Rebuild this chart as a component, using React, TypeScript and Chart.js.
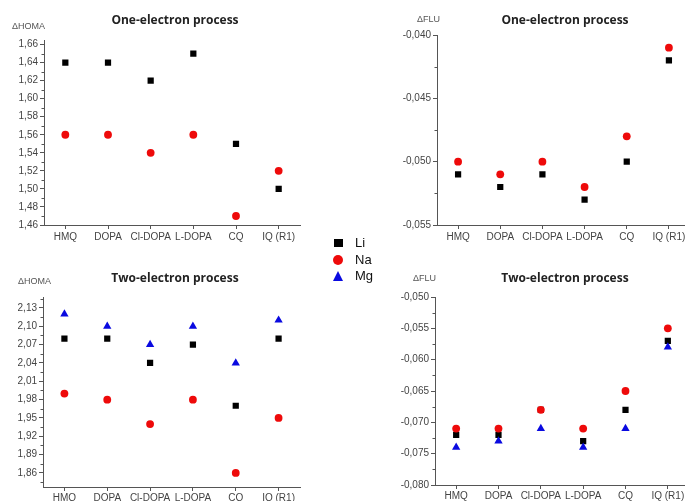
import React, { useEffect, useRef } from 'react';
import { Chart, registerables } from 'chart.js';
Chart.register(...registerables);

const CATEGORIES = ['HMQ', 'DOPA', 'Cl-DOPA', 'L-DOPA', 'CQ', 'IQ (R1)'];

// One-electron process, ΔHOMA
const HOMA1_LI = [1.64, 1.64, 1.62, 1.65, 1.55, 1.50];
const HOMA1_NA = [1.56, 1.56, 1.54, 1.56, 1.47, 1.52];
const HOMA1_TICKS = [1.46, 1.48, 1.50, 1.52, 1.54, 1.56, 1.58, 1.60, 1.62, 1.64, 1.66];

// One-electron process, ΔFLU
const FLU1_LI = [-0.051, -0.052, -0.051, -0.053, -0.050, -0.042];
const FLU1_NA = [-0.050, -0.051, -0.050, -0.052, -0.048, -0.041];
const FLU1_TICKS = [-0.055, -0.050, -0.045, -0.040];

// Two-electron process, ΔHOMA
const HOMA2_LI = [2.08, 2.08, 2.04, 2.07, 1.97, 2.08];
const HOMA2_NA = [1.99, 1.98, 1.94, 1.98, 1.86, 1.95];
const HOMA2_MG = [2.12, 2.10, 2.07, 2.10, 2.04, 2.11];
const HOMA2_TICKS = [1.86, 1.89, 1.92, 1.95, 1.98, 2.01, 2.04, 2.07, 2.10, 2.13];

// Two-electron process, ΔFLU
const FLU2_LI = [-0.072, -0.072, -0.068, -0.073, -0.068, -0.057];
const FLU2_NA = [-0.071, -0.071, -0.068, -0.071, -0.065, -0.055];
const FLU2_MG = [-0.074, -0.073, -0.071, -0.074, -0.071, -0.058];
const FLU2_TICKS = [-0.080, -0.075, -0.070, -0.065, -0.060, -0.055, -0.050];

const SERIES_NAMES = ['Li', 'Na', 'Mg'];
const TITLES = ['One-electron process', 'Two-electron process'];
const Y_LABELS = ['\u0394HOMA', '\u0394FLU'];

const COLORS = { Li: '#000000', Na: '#ee0a0a', Mg: '#0a0ae0' };
const AXIS = '#555555';
const TICK_TEXT = '#444444';
const FONT = "'Liberation Sans', Arial, sans-serif";
const TITLE_FONT = "'Open Sans', 'Noto Sans', sans-serif";

function ds(name: string, data: number[]) {
  const style: any =
    name === 'Li'
      ? { pointStyle: 'rect', pointRadius: 4.4, order: 3 }
      : name === 'Na'
      ? { pointStyle: 'circle', pointRadius: 3.9, order: 2 }
      : { pointStyle: 'triangle', pointRadius: 4.8, order: 1 };
  const c = (COLORS as any)[name];
  return {
    label: name,
    data,
    showLine: false,
    backgroundColor: c,
    borderColor: c,
    borderWidth: 0,
    pointBorderWidth: 0,
    pointBackgroundColor: c,
    ...style,
  };
}

const textPlugin = {
  id: 'panelText',
  afterDraw(chart: any, _args: any, opts: any) {
    const ctx = chart.ctx;
    ctx.save();
    ctx.textBaseline = 'middle';
    ctx.fillStyle = '#222';
    ctx.font = `bold 12px ${TITLE_FONT}`;
    ctx.textAlign = 'center';
    ctx.fillText(opts.title, opts.titleX, opts.titleY);
    ctx.fillStyle = '#555';
    ctx.font = `9px ${FONT}`;
    ctx.textAlign = 'left';
    ctx.fillText(opts.yLabel, opts.yLabelX, opts.yLabelY);
    ctx.restore();
  },
};

const minorTickPlugin = {
  id: 'minorTicks',
  afterDraw(chart: any, _args: any, opts: any) {
    const y = chart.scales.y;
    const ticks: number[] = opts.ticks;
    if (!ticks || ticks.length < 2) return;
    const step = ticks[1] - ticks[0];
    const ctx = chart.ctx;
    const left = chart.chartArea.left;
    ctx.save();
    ctx.strokeStyle = AXIS;
    ctx.lineWidth = 1;
    const vals: number[] = [];
    for (let i = -1; i < ticks.length; i++) {
      const v = ticks[0] + (i + 0.5) * step;
      if (v >= y.min - 1e-9 && v <= y.max + 1e-9) vals.push(v);
    }
    vals.forEach((v) => {
      const py = Math.round(y.getPixelForValue(v)) + 0.5;
      ctx.beginPath();
      ctx.moveTo(left - 2.5, py);
      ctx.lineTo(left, py);
      ctx.stroke();
    });
    ctx.restore();
  },
};

type PanelProps = {
  left: number;
  top: number;
  width: number;
  height: number;
  padTop: number;
  padRight: number;
  yWidth: number;
  xHeight: number;
  xPad: number;
  yMin: number;
  yMax: number;
  yTicks: number[];
  decimals: number;
  series: { name: string; data: number[] }[];
  title: string;
  yLabel: string;
  titleX: number;
  titleY: number;
  yLabelX: number;
  yLabelY: number;
};

function Panel(p: PanelProps) {
  const ref = useRef<HTMLCanvasElement>(null);
  useEffect(() => {
    if (!ref.current) return;
    const chart = new Chart(ref.current, {
      type: 'line',
      data: {
        labels: CATEGORIES,
        datasets: p.series.map((s) => ds(s.name, s.data)) as any,
      },
      plugins: [textPlugin, minorTickPlugin],
      options: {
        responsive: false,
        animation: false,
        devicePixelRatio: 1,
        layout: { padding: { top: p.padTop, right: p.padRight, left: 0, bottom: 0 } },
        plugins: {
          legend: { display: false },
          tooltip: { enabled: false },
          panelText: {
            title: p.title,
            yLabel: p.yLabel,
            titleX: p.titleX,
            titleY: p.titleY,
            yLabelX: p.yLabelX,
            yLabelY: p.yLabelY,
          },
          minorTicks: { ticks: p.yTicks },
        } as any,
        scales: {
          x: {
            type: 'category',
            offset: true,
            grid: {
              display: true,
              drawOnChartArea: false,
              drawTicks: true,
              tickLength: 4,
              color: AXIS,
              offset: false,
            },
            border: { display: true, color: AXIS, width: 1 },
            ticks: {
              font: { family: FONT, size: 10 },
              color: TICK_TEXT,
              padding: p.xPad,
              maxRotation: 0,
              autoSkip: false,
            },
            afterFit: (s: any) => {
              s.height = p.xHeight;
            },
          },
          y: {
            type: 'linear',
            min: p.yMin,
            max: p.yMax,
            afterBuildTicks: (s: any) => {
              s.ticks = p.yTicks.map((v) => ({ value: v }));
            },
            grid: {
              display: true,
              drawOnChartArea: false,
              drawTicks: true,
              tickLength: 4,
              color: AXIS,
            },
            border: { display: true, color: AXIS, width: 1 },
            ticks: {
              font: { family: FONT, size: 10 },
              color: TICK_TEXT,
              padding: 2,
              callback: (v: any) => Number(v).toFixed(p.decimals).replace('.', ','),
            },
            afterFit: (s: any) => {
              s.width = p.yWidth;
            },
          },
        },
      } as any,
    });
    return () => chart.destroy();
  }, []);
  return (
    <canvas
      ref={ref}
      width={p.width}
      height={p.height}
      style={{ position: 'absolute', left: p.left, top: p.top, width: p.width, height: p.height }}
    />
  );
}

function Legend() {
  const row = (name: string, marker: React.ReactNode, y: number) => (
    <div key={name} style={{ position: 'absolute', left: 330, top: y - 8, height: 16, width: 60 }}>
      <div style={{ position: 'absolute', left: 3, top: 3, width: 10, height: 10, display: 'flex', alignItems: 'center', justifyContent: 'center' }}>
        {marker}
      </div>
      <span
        style={{
          position: 'absolute',
          left: 25,
          top: 0,
          lineHeight: '16px',
          fontSize: 13,
          fontFamily: FONT,
          color: '#111',
        }}
      >
        {name}
      </span>
    </div>
  );
  return (
    <>
      {row(SERIES_NAMES[0], <div style={{ width: 9, height: 8, background: COLORS.Li }} />, 243)}
      {row(SERIES_NAMES[1], <div style={{ width: 10, height: 10, borderRadius: 5, background: COLORS.Na }} />, 260)}
      {row(
        SERIES_NAMES[2],
        <div
          style={{
            width: 0,
            height: 0,
            borderLeft: '5.5px solid transparent',
            borderRight: '5.5px solid transparent',
            borderBottom: `10px solid ${COLORS.Mg}`,
          }}
        />,
        276
      )}
    </>
  );
}

export default function App() {
  return (
    <div
      style={{
        position: 'fixed',
        left: 0,
        top: 0,
        width: 685,
        height: 501,
        overflow: 'hidden',
        background: '#fff',
      }}
    >
      <Panel
        left={0}
        top={0}
        width={340}
        height={250}
        padTop={40}
        padRight={40}
        yWidth={44}
        xHeight={25}
        xPad={2}
        yMin={1.46}
        yMax={1.665}
        yTicks={HOMA1_TICKS}
        decimals={2}
        series={[
          { name: 'Li', data: HOMA1_LI },
          { name: 'Na', data: HOMA1_NA },
        ]}
        title={TITLES[0]}
        yLabel={Y_LABELS[0]}
        titleX={175}
        titleY={21}
        yLabelX={12}
        yLabelY={27}
      />
      <Panel
        left={345}
        top={0}
        width={350}
        height={250}
        padTop={35}
        padRight={5}
        yWidth={92}
        xHeight={25}
        xPad={2}
        yMin={-0.055}
        yMax={-0.04}
        yTicks={FLU1_TICKS}
        decimals={3}
        series={[
          { name: 'Li', data: FLU1_LI },
          { name: 'Na', data: FLU1_NA },
        ]}
        title={TITLES[0]}
        yLabel={Y_LABELS[1]}
        titleX={220}
        titleY={21}
        yLabelX={72}
        yLabelY={20}
      />
      <Panel
        left={0}
        top={250}
        width={340}
        height={260}
        padTop={47}
        padRight={40}
        yWidth={43}
        xHeight={23}
        xPad={1}
        yMin={1.837}
        yMax={2.148}
        yTicks={HOMA2_TICKS}
        decimals={2}
        series={[
          { name: 'Li', data: HOMA2_LI },
          { name: 'Na', data: HOMA2_NA },
          { name: 'Mg', data: HOMA2_MG },
        ]}
        title={TITLES[1]}
        yLabel={Y_LABELS[0]}
        titleX={175}
        titleY={29}
        yLabelX={18}
        yLabelY={32}
      />
      <Panel
        left={345}
        top={250}
        width={350}
        height={260}
        padTop={47}
        padRight={6}
        yWidth={90}
        xHeight={25}
        xPad={1}
        yMin={-0.08}
        yMax={-0.05}
        yTicks={FLU2_TICKS}
        decimals={3}
        series={[
          { name: 'Li', data: FLU2_LI },
          { name: 'Na', data: FLU2_NA },
          { name: 'Mg', data: FLU2_MG },
        ]}
        title={TITLES[1]}
        yLabel={Y_LABELS[1]}
        titleX={220}
        titleY={29}
        yLabelX={68}
        yLabelY={29}
      />
      <Legend />
    </div>
  );
}
